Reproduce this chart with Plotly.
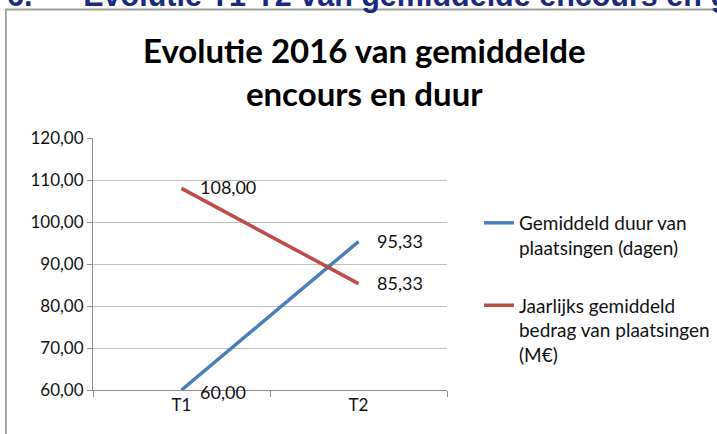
import plotly.graph_objects as go

# data
kwartalen = ["T1", "T2"]
duur_dagen = [60.00, 95.33]
bedrag_meur = [108.00, 85.33]
namen = ["Gemiddeld duur van<br>plaatsingen (dagen)",
         "Jaarlijks gemiddeld<br>bedrag van plaatsingen<br>(M€)"]
kleuren = ["#4A7EBB", "#BE4B48"]

FONT = "Lato, Calibri, Arial"

fig = go.Figure()
for i, (naam, waarden) in enumerate(zip(namen, [duur_dagen, bedrag_meur])):
    fig.add_trace(go.Scatter(
        x=kwartalen, y=waarden, mode="lines", name=naam,
        line=dict(color=kleuren[i], width=3.5),
        legendgroup=f"g{i}", cliponaxis=False,
    ))
    # data labels
    for x, y in zip(kwartalen, waarden):
        fig.add_annotation(
            x=x, y=y, text=f"{y:.2f}".replace(".", ","),
            xanchor="left", yanchor="middle", xshift=16,
            yshift=-2 if y == 60 else 1,
            showarrow=False, font=dict(size=18, color="#111"),
        )

# title
fig.add_annotation(
    xref="paper", yref="paper", x=0.768, y=1.264,
    text="<b>Evolutie 2016 van gemiddelde<br>encours en duur</b>",
    showarrow=False, font=dict(size=33, color="#000", family=FONT),
    xanchor="center", yanchor="middle",
)
# cropped slide header
fig.add_annotation(
    xref="paper", yref="paper", x=-0.249, y=1.488,
    text="<b>6.      Evolutie T1-T2 van gemiddelde encours en gemiddelde duur</b>",
    showarrow=False, font=dict(size=30.5, color="#1A2A80", family="Liberation Sans, Arial"),
    xanchor="left", yanchor="bottom",
)
# chart frame
fig.add_shape(type="rect", xref="paper", yref="paper",
              x0=-0.246, x1=2.0, y0=-0.5, y1=1.510,
              line=dict(color="#A0A0A0", width=1.8), fillcolor="rgba(0,0,0,0)")

fig.update_layout(
    width=717, height=434,
    margin=dict(l=93, r=270, t=138, b=44),
    paper_bgcolor="white", plot_bgcolor="white",
    font=dict(family=FONT, size=17, color="#111"),
    separators=",.",
    showlegend=True,
    legend=dict(xref="container", yref="container", x=0.668, y=0.53,
                xanchor="left", yanchor="top",
                valign="top", traceorder="grouped", tracegroupgap=30,
                font=dict(size=19), bgcolor="rgba(0,0,0,0)"),
)
fig.update_xaxes(
    range=[-0.5, 1.5], showgrid=False, showline=True, linecolor="#8C8C8C",
    ticks="outside", tickson="boundaries", ticklen=6, tickcolor="#8C8C8C",
    tickfont=dict(size=17),
)
fig.update_yaxes(
    range=[60, 120], dtick=10, tickformat=".2f", showgrid=True,
    gridcolor="#BFBFBF", showline=True, linecolor="#8C8C8C",
    ticks="outside", ticklen=5, tickcolor="#8C8C8C", zeroline=False,
)

fig.write_html("out.html", config={"displayModeBar": False},
               post_script="document.body.style.margin='0';")
